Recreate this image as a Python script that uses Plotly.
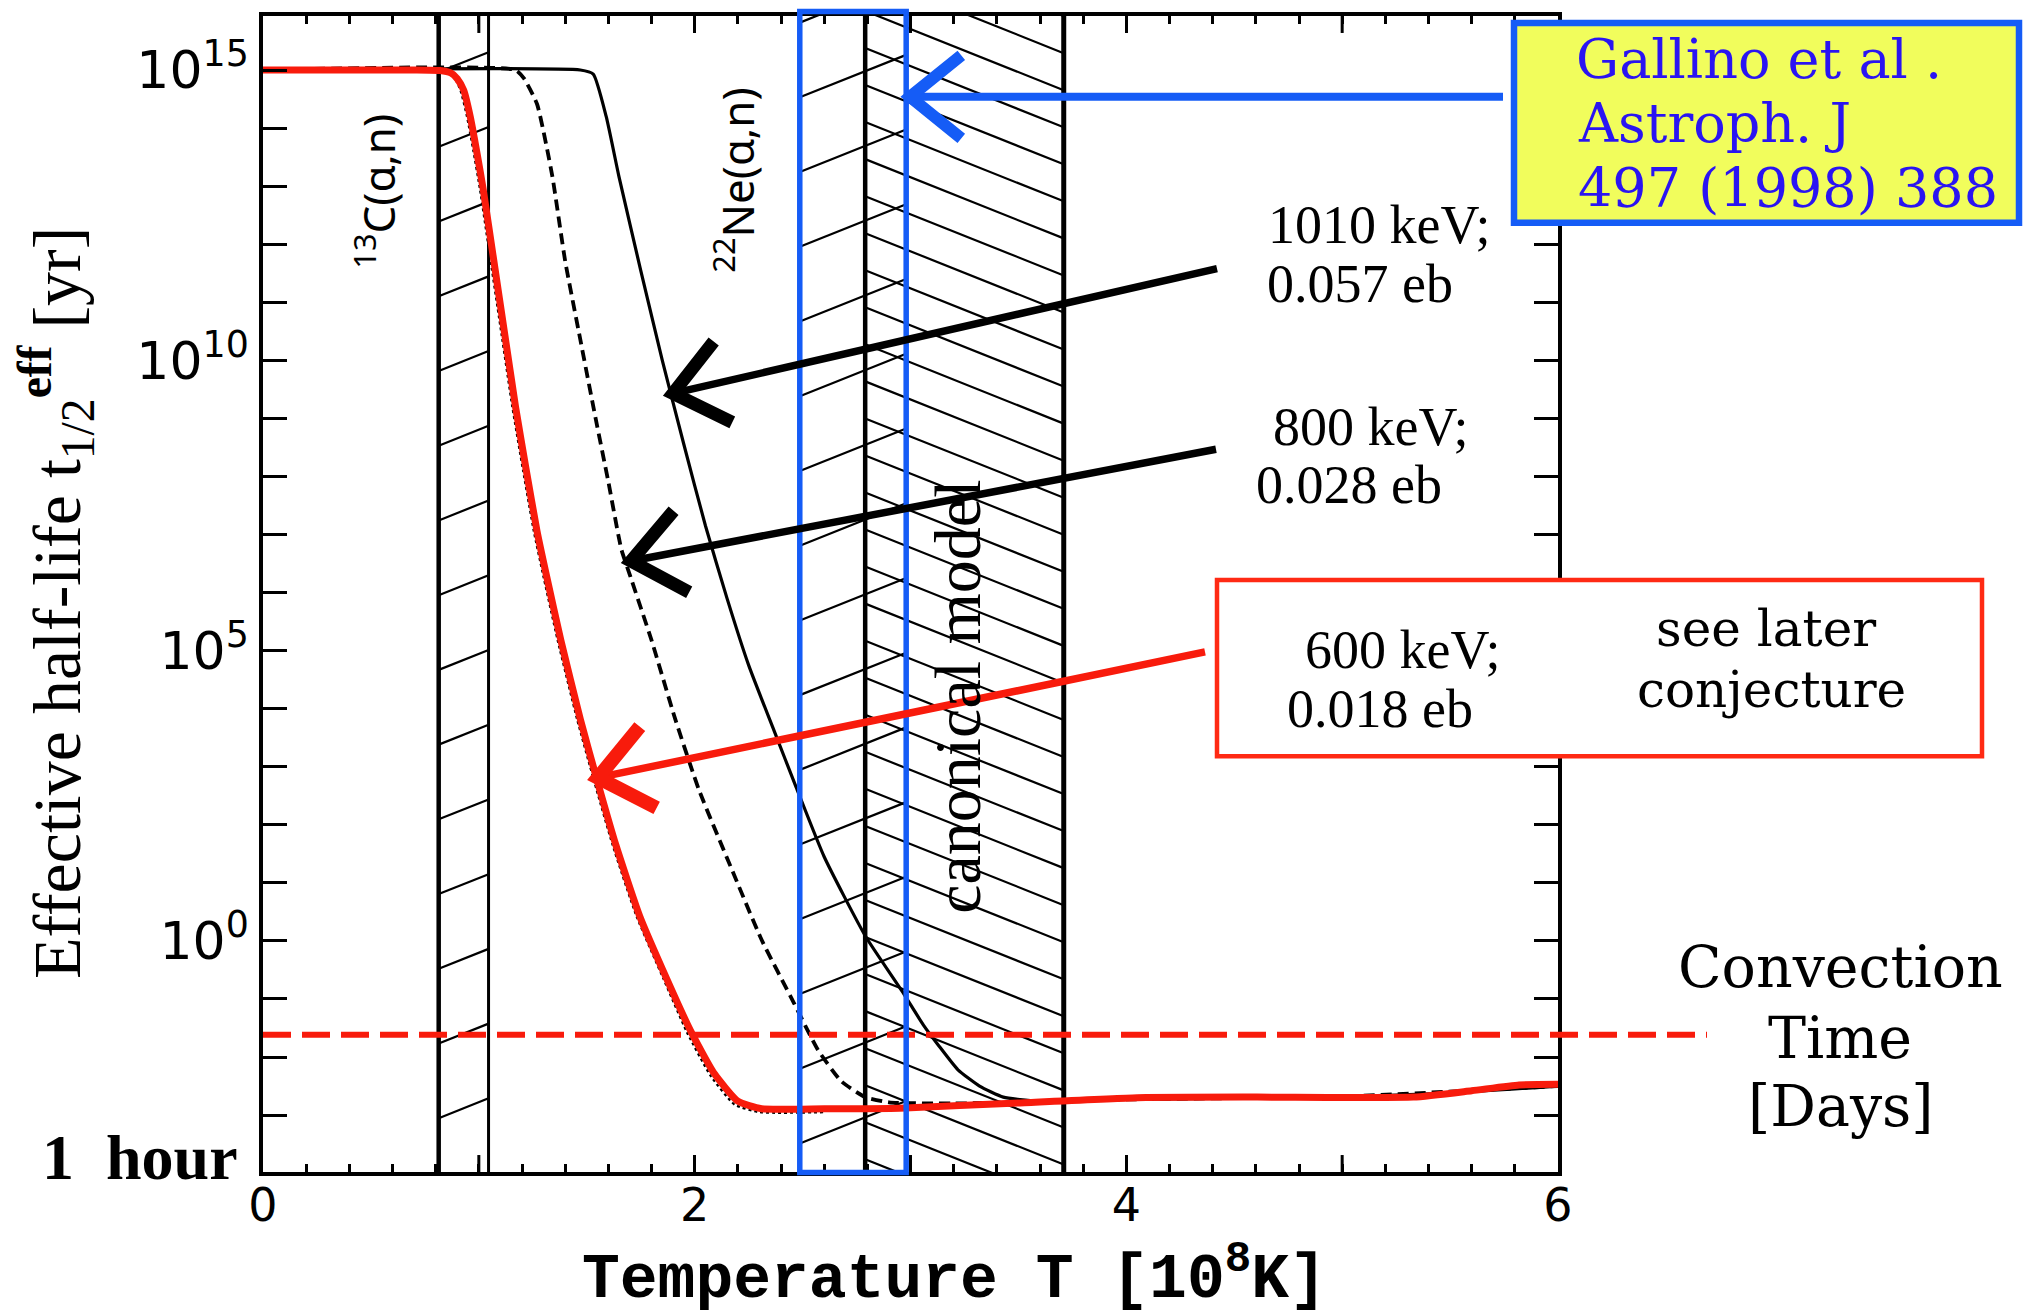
import math
import numpy as np
import plotly.graph_objects as go

# ---------------- values ----------------
# Temperature in 10^8 K, effective half-life given as log10(years)
T_1010 = [0.0, 1.47, 1.53, 1.59, 1.65, 1.75, 1.85, 1.95, 2.05, 2.15, 2.25, 2.37, 2.47,
          2.60, 2.79, 2.96, 3.06, 3.13, 3.22, 3.32, 3.43, 3.59, 4.0, 5.0, 5.5, 6.0]
LOGT_1010 = [15.0, 15.0, 14.93, 14.2, 13.15, 11.55, 10.0, 8.55, 7.15, 5.9, 4.75, 3.6, 2.65,
             1.45, 0.09, -0.86, -1.45, -1.8, -2.22, -2.5, -2.69, -2.76, -2.73, -2.68, -2.62, -2.5]

T_800 = [0.0, 1.17, 1.21, 1.27, 1.34, 1.40, 1.47, 1.54, 1.60, 1.66, 1.70, 1.80, 1.91, 2.02,
         2.17, 2.31, 2.46, 2.57, 2.68, 2.79, 2.90, 3.2, 4.0, 5.0, 6.0]
LOGT_800 = [15.0, 15.0, 14.85, 14.41, 13.18, 11.71, 10.36, 9.02, 7.91, 6.75, 6.3, 5.18, 3.82, 2.6,
            1.25, 0.02, -1.07, -1.87, -2.42, -2.69, -2.78, -2.8, -2.73, -2.68, -2.5]

T_600 = [0.0, 0.70, 0.82, 0.87, 0.90, 0.93, 0.96, 0.99, 1.02, 1.07, 1.12, 1.17, 1.22, 1.27,
         1.31, 1.38, 1.47, 1.55, 1.635, 1.745, 1.87, 1.98, 2.09, 2.20, 2.31, 2.60, 2.95, 3.50,
         4.05, 4.60, 5.33, 5.60, 5.82, 6.0]
LOGT_600 = [15.0, 15.0, 14.99, 14.95, 14.85, 14.65, 14.2, 13.6, 12.95, 11.7, 10.45, 9.2, 8.1,
            7.05, 6.35, 5.18, 3.82, 2.74, 1.65, 0.43, -0.65, -1.54, -2.28, -2.76, -2.89, -2.89,
            -2.88, -2.79, -2.70, -2.69, -2.69, -2.58, -2.48, -2.47]

# thin dotted original 600 keV curve, peeking out beside the red one
T_600_ORIG = [0.86, 0.89, 0.915, 0.945, 0.975, 1.005, 1.055, 1.105, 1.155, 1.205, 1.255, 1.295,
              1.365, 1.455, 1.535, 1.62, 1.73, 1.855, 1.965, 2.075, 2.185, 2.30, 2.60]
LOGT_600_ORIG = [15.0, 14.85, 14.65, 14.2, 13.6, 12.95, 11.7, 10.45, 9.2, 8.1, 7.05, 6.35,
                 5.18, 3.82, 2.74, 1.65, 0.43, -0.65, -1.58, -2.33, -2.82, -2.95, -2.95]

C13_BAND = [0.814, 1.045]          # 13C(a,n) region
NE22_BAND = [2.487, 2.98]          # 22Ne(a,n) region ("/" hatch)
CANONICAL_BAND = [2.79, 3.71]      # canonical model ("\" hatch)
GALLINO_RANGE = [2.487, 2.98]      # blue frame
LOG_CONVECTION_TIME = -1.615       # red dashed line (yr, log10)

X_RANGE = [0, 6]
LOG_Y_RANGE = [-3.98, 15.93]
X_LABEL_VALS = [0, 2, 4, 6]
X_LABEL_TEXT = ["0", "2", "4", "6"]
X_UNLABELLED_MAJOR = [1, 3, 5]
Y_DECADES = list(range(-3, 16))
Y_LABELLED = [0, 5, 10, 15]

# ---------------- layout geometry (pixels of the 2028x1316 page) ----------------
W, H = 2028, 1316
PL, PR, PT, PB = 263, 1558, 14, 1172


def fx(p):
    return (p - PL) / (PR - PL)


def fy(p):
    return (PB - p) / (PB - PT)


RED = "#f81b0c"
BLUE = "#155cf6"
TXTBLUE = "#2a14f2"

fig = go.Figure()


# ---------------- hatching ----------------
def hatch(xa, xb, phase, spacing, slope, width=2.2):
    xs, ys = [], []
    k0 = int(math.floor((-10 - phase) / spacing))
    k1 = int(math.ceil((22 - phase) / spacing))
    for k in range(k0, k1 + 1):
        c = phase + k * spacing
        xs += [xa, xb, None]
        ys += [10 ** c, 10 ** (c + slope * (xb - xa)), None]
    return go.Scatter(x=xs, y=ys, mode="lines", line=dict(color="black", width=width),
                      hoverinfo="skip", showlegend=False)


fig.add_trace(hatch(C13_BAND[0], C13_BAND[1], -0.48, 1.287, 1.484))
fig.add_trace(hatch(NE22_BAND[0], NE22_BAND[1], 5.52, 1.287, 1.484))
fig.add_trace(hatch(CANONICAL_BAND[0], CANONICAL_BAND[1], 7.085, 0.638, -1.484))

# ---------------- curves ----------------
def yv(lst):
    return [10 ** v for v in lst]


fig.add_trace(go.Scatter(x=T_600_ORIG, y=yv(LOGT_600_ORIG), mode="lines",
                         line=dict(color="black", width=2.2, dash="dot", shape="spline", smoothing=0.5),
                         showlegend=False))
fig.add_trace(go.Scatter(x=T_1010, y=yv(LOGT_1010), mode="lines",
                         line=dict(color="black", width=3.2, shape="spline", smoothing=0.5),
                         name="1010 keV", showlegend=False))
fig.add_trace(go.Scatter(x=T_800, y=yv(LOGT_800), mode="lines",
                         line=dict(color="black", width=3.8, dash="11px,6px", shape="spline", smoothing=0.5),
                         name="800 keV", showlegend=False))
fig.add_trace(go.Scatter(x=T_600, y=yv(LOGT_600), mode="lines",
                         line=dict(color=RED, width=7, shape="spline", smoothing=0.5),
                         name="600 keV", showlegend=False))

# ---------------- shapes ----------------
shapes = []
for xv, w in [(C13_BAND[0], 4.5), (C13_BAND[1], 3), (CANONICAL_BAND[0], 4.5), (CANONICAL_BAND[1], 5)]:
    shapes.append(dict(type="line", xref="x", yref="paper", x0=xv, x1=xv, y0=0, y1=1,
                       line=dict(color="black", width=w), layer="below"))

# longer unlabelled integer ticks on the bottom and top axes
TICK_FRAC = 17 / (PB - PT)
for xv in X_UNLABELLED_MAJOR:
    shapes.append(dict(type="line", xref="x", yref="paper", x0=xv, x1=xv, y0=0, y1=TICK_FRAC,
                       line=dict(color="black", width=3), layer="above"))
    shapes.append(dict(type="line", xref="x", yref="paper", x0=xv, x1=xv, y0=1 - TICK_FRAC, y1=1,
                       line=dict(color="black", width=3), layer="above"))

# convection time dashed line (extends past the right axis)
conv = 10 ** LOG_CONVECTION_TIME
shapes.append(dict(type="line", xref="paper", yref="y", x0=0, x1=fx(1707), y0=conv, y1=conv,
                   line=dict(color=RED, width=6, dash="28px,11px"), layer="above"))

# blue frame
shapes.append(dict(type="rect", xref="x", yref="paper", x0=GALLINO_RANGE[0], x1=GALLINO_RANGE[1],
                   y0=fy(1172.5), y1=fy(9.5), line=dict(color=BLUE, width=5.5), layer="above"))


def arrow(tip, tail, color, width, head_w, head_len=66, ang=39):
    tx, ty = tip
    ux, uy = tail[0] - tx, tail[1] - ty
    n = math.hypot(ux, uy)
    ux, uy = ux / n, uy / n
    a = math.radians(ang)
    a1 = (tx + head_len * (ux * math.cos(a) - uy * math.sin(a)),
          ty + head_len * (ux * math.sin(a) + uy * math.cos(a)))
    a2 = (tx + head_len * (ux * math.cos(a) + uy * math.sin(a)),
          ty + head_len * (-ux * math.sin(a) + uy * math.cos(a)))
    out = [dict(type="line", xref="paper", yref="paper", x0=fx(tx), y0=fy(ty),
                x1=fx(tail[0]), y1=fy(tail[1]), line=dict(color=color, width=width), layer="above"),
           dict(type="path", xref="paper", yref="paper",
                path=f"M {fx(a1[0])},{fy(a1[1])} L {fx(tx)},{fy(ty)} L {fx(a2[0])},{fy(a2[1])}",
                line=dict(color=color, width=head_w), layer="above")]
    return out


shapes += arrow((910, 95), (1503, 95), BLUE, 8, 12)
shapes += arrow((673, 392), (1217, 267), "black", 7.5, 13)
shapes += arrow((631, 560), (1216, 448), "black", 7.5, 13)
shapes += arrow((598, 777), (1205, 651), RED, 7.5, 14)

# boxes
shapes.append(dict(type="rect", xref="paper", yref="paper", x0=fx(1217), x1=fx(1982),
                   y0=fy(755.5), y1=fy(579), fillcolor="white",
                   line=dict(color="#ff2a14", width=4.5), layer="above"))
shapes.append(dict(type="rect", xref="paper", yref="paper", x0=fx(1514), x1=fx(2019),
                   y0=fy(221), y1=fy(21), fillcolor="#f1fd5c",
                   line=dict(color=BLUE, width=6.5), layer="above"))

# ---------------- text ----------------
SERIF = "Liberation Serif"
WSERIF = "DejaVu Serif"


def txt(text, x, y, size, family, color="black", xanchor="center", angle=0):
    return dict(text=text, x=fx(x), y=fy(y), xref="paper", yref="paper", xanchor=xanchor,
                yanchor="middle", showarrow=False, textangle=angle,
                font=dict(family=family, size=size, color=color))


ann = [
    txt("Effective half-life t<sub>1/2</sub><sup><b>eff</b></sup> [yr]", 57, 602, 68, SERIF, angle=-90),
    txt("<b>1\u00a0 hour</b>", 140, 1157, 64, SERIF),
    txt("<b>Temperature T [10<sup>8</sup>K]</b>", 954, 1275, 63, "Liberation Mono"),
    txt("<sup>13</sup>C(α,n)", 375, 190, 44, "Noto Sans", angle=-90),
    txt("<sup>22</sup>Ne(α,n)", 734, 179, 44, "Noto Sans", angle=-90),
    txt("canonical model", 958, 696, 66, SERIF, angle=-90),
    txt("1010 keV;", 1266, 223, 54, SERIF, xanchor="left"),
    txt("0.057 eb", 1265, 282, 54, SERIF, xanchor="left"),
    txt("800 keV;", 1271, 426, 54, SERIF, xanchor="left"),
    txt("0.028 eb", 1254, 484, 54, SERIF, xanchor="left"),
    txt("600 keV;", 1303, 649, 54, SERIF, xanchor="left"),
    txt("0.018 eb", 1285, 708, 54, SERIF, xanchor="left"),
    txt("see later", 1766, 628, 50, WSERIF),
    txt("conjecture", 1771, 689, 50, WSERIF),
    txt("Convection", 1840, 967, 57, WSERIF),
    txt("Time", 1840, 1038, 57, WSERIF),
    txt("[Days]", 1841, 1106, 57, WSERIF),
    txt("Gallino et al .", 1574, 58, 54, WSERIF, color=TXTBLUE, xanchor="left"),
    txt("Astroph. J", 1576, 122, 54, WSERIF, color=TXTBLUE, xanchor="left"),
    txt("497 (1998) 388", 1576, 187, 54, WSERIF, color=TXTBLUE, xanchor="left"),
]

y_tickvals = [10 ** d for d in Y_LABELLED]
y_ticktext = [f"10<sup>{d}</sup>" for d in Y_LABELLED]
y_minorvals = [10 ** d for d in Y_DECADES if d not in Y_LABELLED]

fig.update_layout(
    width=W, height=H,
    margin=dict(l=PL, r=W - PR, t=PT, b=H - PB, pad=0),
    paper_bgcolor="white", plot_bgcolor="white",
    showlegend=False,
    shapes=shapes,
    annotations=ann,
    xaxis=dict(range=X_RANGE, showline=True, linewidth=3.5, linecolor="black", mirror="ticks",
               ticks="inside", ticklen=17, tickwidth=3, tickcolor="black",
               tickmode="array", tickvals=X_LABEL_VALS, ticktext=X_LABEL_TEXT,
               ticklabelstandoff=-10,
               minor=dict(dtick=0.2, ticks="inside", ticklen=8, tickwidth=2.5, tickcolor="black",
                          showgrid=False),
               showgrid=False, zeroline=False,
               tickfont=dict(family="DejaVu Sans", size=46, color="black")),
    yaxis=dict(type="log", range=LOG_Y_RANGE, showline=True, linewidth=3.5, linecolor="black",
               mirror="ticks", ticks="inside", ticklen=24, tickwidth=3, tickcolor="black",
               tickmode="array", tickvals=y_tickvals, ticktext=y_ticktext,
               minor=dict(tickmode="array", tickvals=y_minorvals, ticks="inside", ticklen=24,
                          tickwidth=3, tickcolor="black", showgrid=False),
               showgrid=False, zeroline=False,
               tickfont=dict(family="DejaVu Sans", size=52, color="black")),
)

fig.write_html("out.html")
